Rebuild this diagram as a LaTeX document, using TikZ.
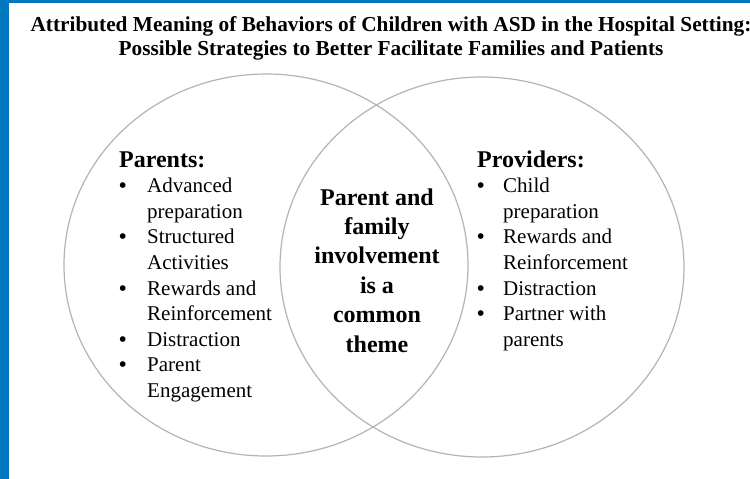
\documentclass[tikz,border=0pt]{standalone}
\usepackage{fontspec}
\setmainfont{Liberation Serif}
\definecolor{bandblue}{RGB}{0,119,190}
\definecolor{ringgray}{RGB}{180,180,180}
\tikzset{
	ring/.style={draw=ringgray, line width=1.2pt},
	plain/.style={inner sep=0pt, anchor=base west}
}
\newcommand{\headtext}{\fontsize{24}{29}\selectfont\bfseries}
\newcommand{\bodytext}{\fontsize{21}{25.6}\selectfont}
\newcommand{\dotmark}{\textbf{\textbullet}}
\begin{document}
\begin{tikzpicture}[x=1pt,y=-1pt]
	\useasboundingbox (0,0) rectangle (750,479);
	\fill[white] (0,0) rectangle (750,479);
	\fill[bandblue] (0,0) rectangle (9,479);
	\fill[bandblue] (0,0) rectangle (750,3);

	% the two sets
	\draw[ring] (266,265) ellipse [x radius=202, y radius=191];
	\draw[ring] (482,267) ellipse [x radius=202, y radius=190];

	\node[plain, anchor=base] (title) at (391,31) {\fontsize{21.3}{24}\selectfont\bfseries
		\begin{tabular}[t]{@{}c@{}}
			Attributed Meaning of Behaviors of Children with ASD in the Hospital Setting:\\
			Possible Strategies to Better Facilitate Families and Patients
		\end{tabular}};

	\node[plain] (parents) at (119,167) {\bodytext
		\begin{tabular}[t]{@{}p{28pt}@{}l@{}}
			\multicolumn{2}{@{}l@{}}{\headtext Parents:}\\
			\dotmark & Advanced\\
			& preparation\\
			\dotmark & Structured\\
			& Activities\\
			\dotmark & Rewards and\\
			& Reinforcement\\
			\dotmark & Distraction\\
			\dotmark & Parent\\
			& Engagement
		\end{tabular}};

	\node[plain] (providers) at (477,167) {\bodytext
		\begin{tabular}[t]{@{}p{26pt}@{}l@{}}
			\multicolumn{2}{@{}l@{}}{\headtext Providers:}\\
			\dotmark & Child\\
			& preparation\\
			\dotmark & Rewards and\\
			& Reinforcement\\
			\dotmark & Distraction\\
			\dotmark & Partner with\\
			& parents
		\end{tabular}};

	\node[plain, anchor=base] (common) at (377,205) {\fontsize{24}{29.4}\selectfont\bfseries
		\begin{tabular}[t]{@{}c@{}}
			Parent and\\ family\\ involvement\\ is a\\ common\\ theme
		\end{tabular}};
\end{tikzpicture}
\end{document}
